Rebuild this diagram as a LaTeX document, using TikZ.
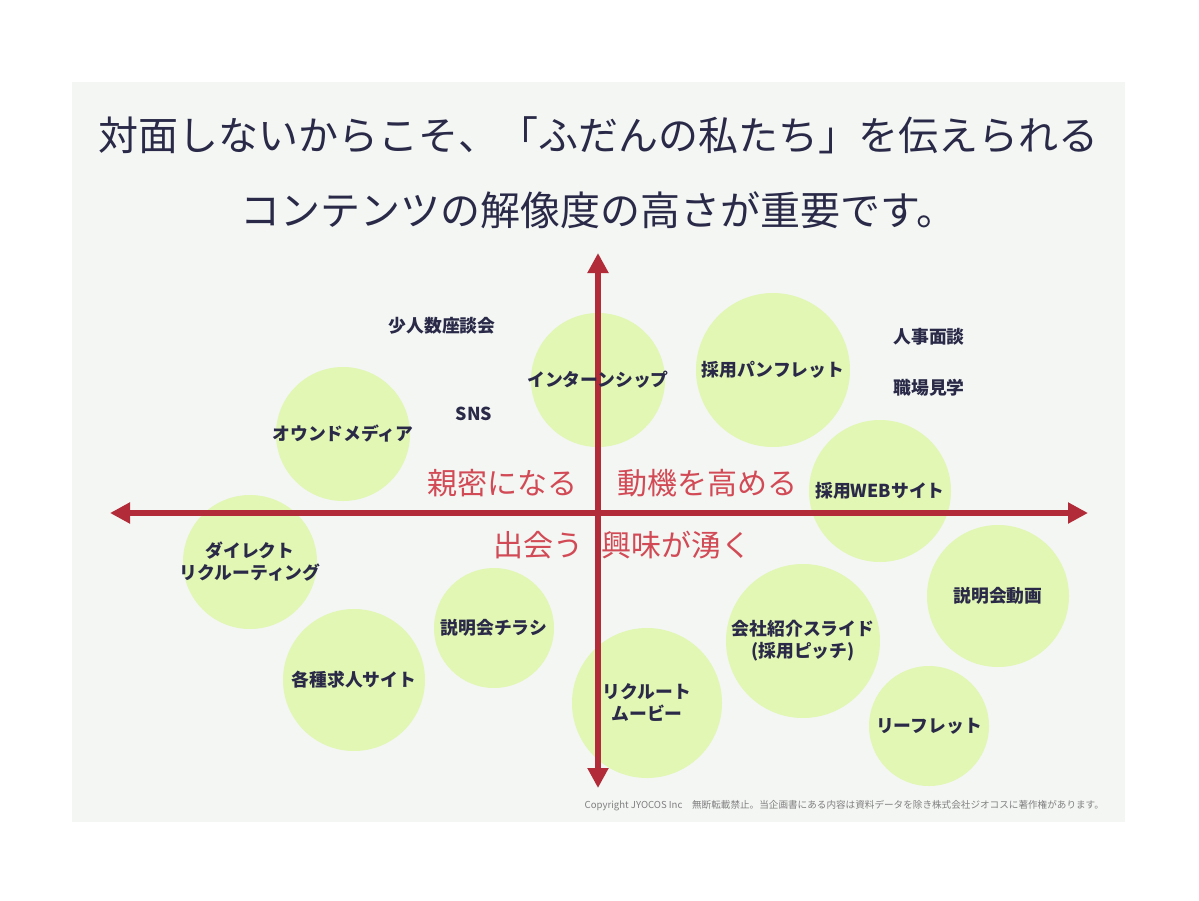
\documentclass[tikz,border=0pt]{standalone}
\usepackage{fontspec}
\setmainfont{Noto Sans CJK JP}
\usetikzlibrary{arrows.meta}
\definecolor{panel}{HTML}{F3F6F3}
\definecolor{bub}{HTML}{E2F7B4}
\definecolor{axis}{HTML}{B12C38}
\definecolor{navy}{HTML}{2A2A48}
\definecolor{qred}{HTML}{D24A55}
\begin{document}
\begin{tikzpicture}[x=0.5pt,y=-0.5pt,
  bubble/.style={circle,fill=bub,draw=none,minimum size=#1},
  lbl/.style={font=\bfseries\fontsize{8.9}{11}\selectfont,text=navy,align=center},
  quad/.style={font=\fontsize{15}{18}\selectfont,text=qred},
  ttl/.style={font=\fontsize{20}{24}\selectfont,text=navy},
  ax/.style={draw=axis,line width=2.6pt,-{Triangle[length=10pt,width=10pt]}}]
\useasboundingbox (0,0) rectangle (1199,900);
\fill[white] (0,0) rectangle (1199,900);
\fill[panel] (72,82) rectangle (1125,822);
\node[ttl] (t1) at (598,135) {対面しないからこそ、「ふだんの私たち」を伝えられる};
\node[ttl] (t2) at (598,210) {コンテンツの解像度の高さが重要です。};
% bubbles
\node[bubble=134pt*0.5] (b1) at (598,380) {};
\node[bubble=154pt*0.5] (b2) at (773,370) {};
\node[bubble=134pt*0.5] (b3) at (343,434) {};
\node[bubble=142pt*0.5] (b4) at (880,491) {};
\node[bubble=134pt*0.5] (b5) at (250,562) {};
\node[bubble=120pt*0.5] (b6) at (494,628) {};
\node[bubble=142pt*0.5] (b7) at (354,680) {};
\node[bubble=150pt*0.5] (b8) at (647,703) {};
\node[bubble=154pt*0.5] (b9) at (803,641) {};
\node[bubble=142pt*0.5] (b10) at (998,596) {};
\node[bubble=120pt*0.5] (b11) at (929,726) {};
% axes
\coordinate (xl) at (110,513); \coordinate (xr) at (1088,513);
\coordinate (yt) at (598,253); \coordinate (yb) at (598,788);
\coordinate (o) at (598,513);
\draw[ax] (o) -- (xl); \draw[ax] (o) -- (xr);
\draw[ax] (o) -- (yt); \draw[ax] (o) -- (yb);
% labels
\node[lbl] at (b1) {インターンシップ};
\node[lbl] at (b2) {採用パンフレット};
\node[lbl] at (b3) {オウンドメディア};
\node[lbl] at (b4) {採用WEBサイト};
\node[lbl] at (b5) {ダイレクト\\リクルーティング};
\node[lbl] at (b6) {説明会チラシ};
\node[lbl] at (b7) {各種求人サイト};
\node[lbl] at (b8) {リクルート\\ムービー};
\node[lbl] at (b9) {会社紹介スライド\\(採用ピッチ)};
\node[lbl] at (b10) {説明会動画};
\node[lbl] at (b11) {リーフレット};
\node[lbl] (n1) at (442,326) {少人数座談会};
\node[lbl] (n2) at (474,414) {SNS};
\node[lbl] (n3) at (929,337) {人事面談};
\node[lbl] (n4) at (929,388) {職場見学};
\node[quad] (q1) at (502,483) {親密になる};
\node[quad] (q2) at (707,483) {動機を高める};
\node[quad] (q3) at (538,545) {出会う};
\node[quad] (q4) at (676,545) {興味が湧く};
\node[font=\fontsize{4.8}{5.5}\selectfont,text=gray,anchor=east] (cp) at (1111,806) {Copyright JYOCOS Inc\quad 無断転載禁止。当企画書にある内容は資料データを除き株式会社ジオコスに著作権があります。};
\end{tikzpicture}
\end{document}
